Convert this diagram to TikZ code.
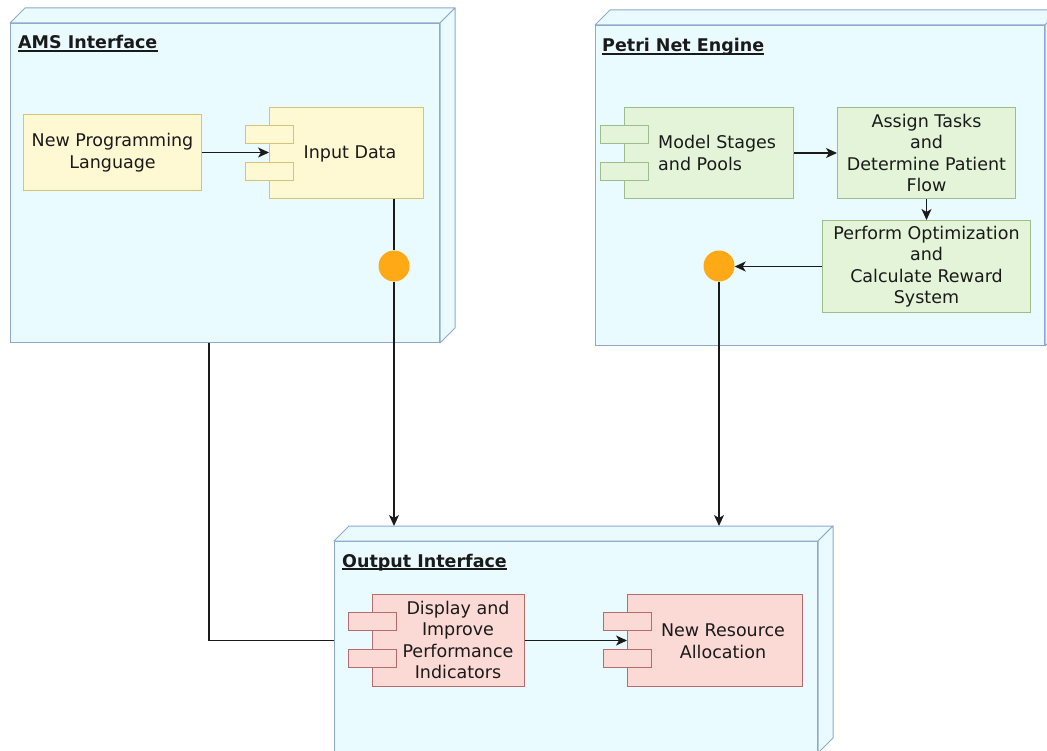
\documentclass[tikz,border=0pt]{standalone}
\usepackage{fontspec}
\setmainfont{DejaVu Sans}
\usetikzlibrary{arrows.meta,calc}

\definecolor{nodefill}{HTML}{EAFBFF}
\definecolor{nodeline}{HTML}{8FA9CC}
\definecolor{yfill}{HTML}{FFF9D3}
\definecolor{yline}{HTML}{D9C27A}
\definecolor{gfill}{HTML}{E4F4D8}
\definecolor{gline}{HTML}{9DBD8C}
\definecolor{rfill}{HTML}{FBD9D5}
\definecolor{rline}{HTML}{B56C6C}
\definecolor{portfill}{HTML}{FFA916}
\definecolor{ink}{HTML}{1A1A1A}

\tikzset{
  txt/.style={font=\fontsize{17.5}{21.5}\selectfont, align=center, inner sep=0pt, text=ink},
  title/.style={font=\fontsize{17.5}{21.5}\selectfont\bfseries, inner sep=0pt, anchor=base west, text=ink},
  container/.style={draw=nodeline, fill=nodefill, line width=1pt, inner sep=0pt, anchor=north west},
  depthface/.style={draw=nodeline, fill=nodefill, line width=1pt, line join=round},
  ybox/.style={draw=yline, fill=yfill, line width=1pt, inner sep=0pt, anchor=north west, txt},
  gbox/.style={draw=gline, fill=gfill, line width=1pt, inner sep=0pt, anchor=north west, txt},
  rbox/.style={draw=rline, fill=rfill, line width=1pt, inner sep=0pt, anchor=north west, txt},
  port/.style={circle, fill=portfill, draw=none, minimum size=31pt, inner sep=0pt},
  conn/.style={draw=ink, line width=1.3pt},
  flow/.style={conn, -{Stealth[length=11pt, width=10pt, inset=3pt]}},
  uline/.style={draw=ink, line width=1.4pt},
}

% three-dimensional node: front face node plus its top and right faces
\newcommand{\depthbox}[1]{%
  \path[depthface] (#1.north west) -- ++(15,-15) -- ($(#1.north east)+(15,-15)$)
    -- (#1.north east) -- cycle;
  \path[depthface] (#1.north east) -- ++(15,-15) -- ($(#1.south east)+(15,-15)$)
    -- (#1.south east) -- cycle;
}

% component tabs on the left side of a node
\newcommand{\tabs}[2]{%
  \node[#2, minimum width=48pt, minimum height=18pt, anchor=north west]
    (#1tabA) at ($(#1.north west)+(-24,18)$) {};
  \node[#2, minimum width=48pt, minimum height=18pt, anchor=north west]
    (#1tabB) at ($(#1.north west)+(-24,55)$) {};
}

\begin{document}
\begin{tikzpicture}[x=1pt, y=-1pt]
\useasboundingbox (0,0) rectangle (1047,751);

% ---------- AMS Interface ----------
\node[container, minimum width=429pt, minimum height=319pt] (ams) at (10,23) {};
\depthbox{ams}
\node[title] (amsT) at (18,49) {AMS Interface};
\draw[uline] ([yshift=-2pt]amsT.base west) -- ([yshift=-2pt]amsT.base east);

\node[ybox, minimum width=178pt, minimum height=76pt] (npl) at (23,114)
  {New Programming\\Language};
\node[ybox, minimum width=154pt, minimum height=91pt] (input) at (269,107) {};
\tabs{input}{ybox}
\node[txt] (inputT) at (350,154) {Input Data};
\node[port] (amsport) at (394,266) {};

% ---------- Petri Net Engine ----------
\node[container, minimum width=449pt, minimum height=320pt] (petri) at (595,25) {};
\depthbox{petri}
\node[title] (petriT) at (602,52) {Petri Net Engine};
\draw[uline] ([yshift=-2pt]petriT.base west) -- ([yshift=-2pt]petriT.base east);

\node[gbox, minimum width=169pt, minimum height=91pt] (model) at (624,107) {};
\tabs{model}{gbox}
\node[txt, align=left, anchor=west] (modelT) at (658,153) {Model Stages\\and Pools};
\node[gbox, minimum width=178pt, minimum height=91pt] (assign) at (837,107)
  {Assign Tasks\\and\\Determine Patient\\Flow};
\node[gbox, minimum width=208pt, minimum height=92pt] (perform) at (822,220)
  {Perform Optimization\\and\\Calculate Reward\\System};
\node[port] (petriport) at (719,266) {};

% ---------- Output Interface ----------
\node[container, minimum width=483pt, minimum height=211pt] (out) at (334,541) {};
\depthbox{out}
\coordinate (outback) at ($(out.north west)+(15,-15)$);
\node[title] (outT) at (342,567) {Output Interface};
\draw[uline] ([yshift=-2pt]outT.base west) -- ([yshift=-2pt]outT.base east);

\node[rbox, minimum width=152pt, minimum height=92pt] (display) at (372,594) {};
\tabs{display}{rbox}
\node[txt] (displayT) at (458,640) {Display and\\Improve\\Performance\\Indicators};
\node[rbox, minimum width=175pt, minimum height=92pt] (nra) at (627,594) {};
\tabs{nra}{rbox}
\node[txt] (nraT) at (723,641) {New Resource\\Allocation};

% ---------- connectors ----------
\draw[flow] (npl.east) -- (npl.east -| input.west);
\draw[conn] (amsport |- input.south) -- (amsport.north);
\draw[flow] (amsport.south) -- (amsport |- outback);

\draw[flow] (model.east) -- (model.east -| assign.west);
\draw[flow] (assign.south) -- (perform.north);
\draw[flow] (perform.west) -- (perform.west -| petriport.east);
\draw[flow] (petriport.south) -- (petriport |- outback);

\draw[conn] ([xshift=199pt]ams.south west) |- (display -| out.west);
\draw[flow] (display.east) -- (display.east -| nra.west);
\end{tikzpicture}
\end{document}
